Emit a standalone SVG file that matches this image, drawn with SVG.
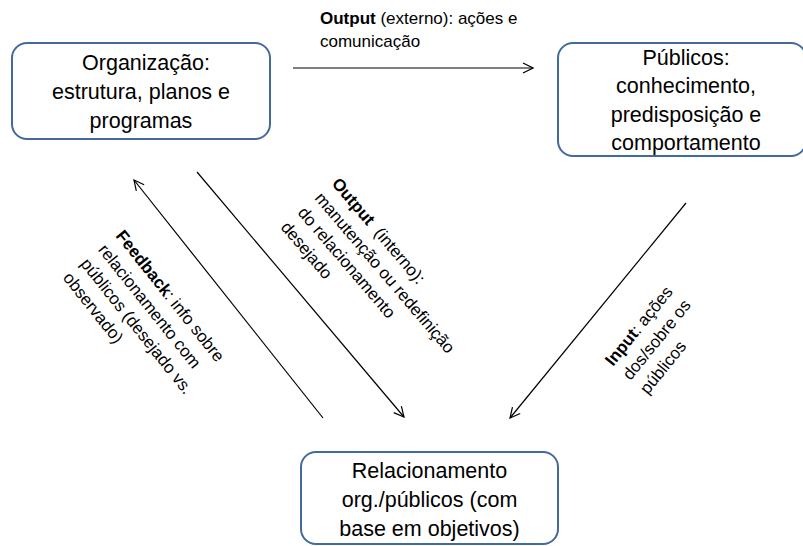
<svg xmlns="http://www.w3.org/2000/svg" width="803" height="546" viewBox="0 0 803 546">
<defs>
<style>
.box{fill:#ffffff;stroke:#436a9c;stroke-width:2}
.bt{font-family:"Liberation Sans",Arial,sans-serif;font-size:21.5px;fill:#000;text-anchor:middle}
.lt{font-family:"Liberation Sans",Arial,sans-serif;font-size:17px;fill:#000}
.b{font-weight:bold}
.conn{stroke:#000;stroke-width:1.2;fill:none;marker-end:url(#ah)}
</style>
<marker id="ah" markerWidth="12" markerHeight="12" refX="11" refY="6" orient="auto" markerUnits="userSpaceOnUse">
<path d="M1,1 L11,6 L1,11" fill="none" stroke="#000" stroke-width="1.2"/>
</marker>
</defs>
<rect width="803" height="546" fill="#ffffff"/>
<g id="connectors">
<line class="conn" x1="293" y1="68" x2="533" y2="68"/>
<line class="conn" x1="323" y1="418" x2="134" y2="180"/>
<line class="conn" x1="197" y1="172" x2="404" y2="417"/>
<line class="conn" x1="686" y1="203" x2="510" y2="418"/>
</g>
<g id="node-organizacao">
<rect class="box" x="12" y="43" width="258" height="96" rx="15"/>
<text class="bt"><tspan x="146" y="70">Organização:</tspan><tspan x="141" y="99">estrutura, planos e</tspan><tspan x="141" y="128">programas</tspan></text>
</g>
<g id="node-publicos">
<rect class="box" x="558" y="43" width="248" height="113" rx="15"/>
<text class="bt"><tspan x="686" y="64.5">Públicos:</tspan><tspan x="686" y="93">conhecimento,</tspan><tspan x="686" y="121.5">predisposição e</tspan><tspan x="686" y="150">comportamento</tspan></text>
</g>
<g id="node-relacionamento">
<rect class="box" x="301" y="452" width="257" height="92" rx="15"/>
<text class="bt"><tspan x="429.5" y="478">Relacionamento</tspan><tspan x="429.5" y="507">org./públicos (com</tspan><tspan x="429.5" y="536">base em objetivos)</tspan></text>
</g>
<g id="labels">
<text class="lt"><tspan x="320" y="24"><tspan class="b">Output</tspan> (externo): ações e</tspan><tspan x="320" y="47">comunicação</tspan></text>
<text class="lt" transform="translate(115,236) rotate(51.4)"><tspan x="0" y="0"><tspan class="b">Feedback</tspan>: info sobre</tspan><tspan x="0" y="22.5">relacionamento com</tspan><tspan x="0" y="45">públicos (desejado vs.</tspan><tspan x="0" y="67.5">observado)</tspan></text>
<text class="lt" transform="translate(331,184) rotate(49.5)" xml:space="preserve"><tspan x="0" y="0"><tspan class="b">Output</tspan>  (interno):</tspan><tspan x="0" y="22.4">manutenção ou redefinição</tspan><tspan x="0" y="44.8">do relacionamento</tspan><tspan x="0" y="67.2">desejado</tspan></text>
<text class="lt" transform="translate(613,367) rotate(-51)"><tspan x="0" y="0"><tspan class="b">Input</tspan>: ações</tspan><tspan x="0" y="22.4">dos/sobre os</tspan><tspan x="0" y="44.8">públicos</tspan></text>
</g>
</svg>
